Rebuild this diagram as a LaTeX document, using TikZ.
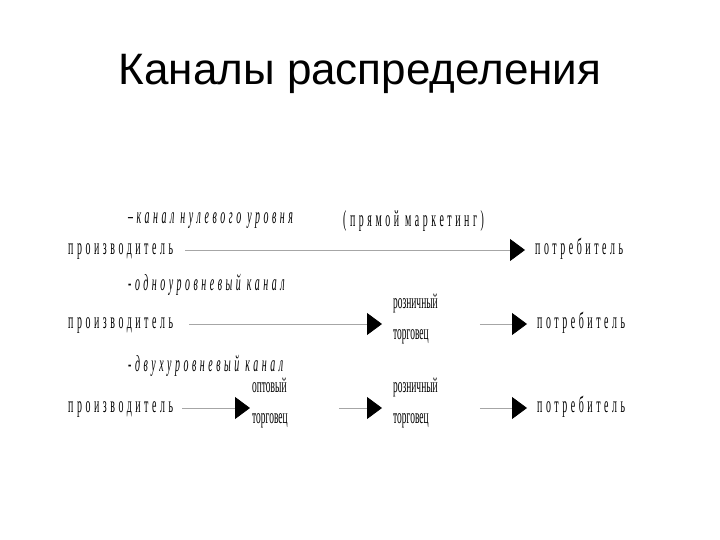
\documentclass[tikz,border=0pt]{standalone}
\usepackage{graphicx}
\usepackage{fontspec}
\setmainfont{Liberation Serif}
\newfontfamily\titlefont{Liberation Sans}
\newfontfamily\diagfont[LetterSpace=36]{Liberation Serif}
\newfontfamily\smallfont{Liberation Serif}
\usetikzlibrary{arrows.meta}
\newcommand{\sq}[1]{\scalebox{0.43}[1]{#1}}
\newcommand{\sn}[1]{\scalebox{0.45}[1]{#1}}
\tikzset{
  word/.style={inner sep=0pt, anchor=base west, font=\diagfont\fontsize{23}{25}\selectfont},
  lab/.style={inner sep=0pt, anchor=west, font=\diagfont\itshape\fontsize{23}{25}\selectfont},
  labup/.style={inner sep=0pt, anchor=west, font=\diagfont\fontsize{23}{25}\selectfont},
  trader/.style={inner sep=0pt, anchor=base west, font=\smallfont\fontsize{21}{24}\selectfont},
  conn/.style={draw=black!35, line width=0.8pt, -{Triangle[length=15pt,width=22pt,color=black]}},
  title/.style={font=\titlefont\fontsize{44}{50}\selectfont, anchor=base, inner sep=0pt}
}
\begin{document}
\begin{tikzpicture}[x=1pt,y=-1pt]
\useasboundingbox (0,0) rectangle (720,540);
\node[title] (t) at (360,85) {Каналы распределения};
\coordinate (row1) at (0,250);
\coordinate (row2) at (0,324);
\coordinate (row3) at (0,408);
% row 1
\node[lab] (l1) at (128,221) {\sq{–канал нулевого уровня}};
\node[labup] (m1) at (343,221) {\sq{(прямой маркетинг)}};
\node[word] (p1) at (68,254.5) {\sq{производитель}};
\node[word] (c1) at (535,254.5) {\sq{потребитель}};
\draw[conn] ([xshift=12pt]p1.east |- row1) -- ([xshift=-10pt]c1.west |- row1);
% row 2
\node[lab] (l2) at (128,285) {\sq{-одноуровневый канал}};
\node[word] (p2) at (68,328.5) {\sq{производитель}};
\node[trader] (r2a) at (393,308) {\sn{розничный}};
\node[trader] (r2b) at (393,339) {\sn{торговец}};
\node[word] (c2) at (537,328.5) {\sq{потребитель}};
\draw[conn] ([xshift=16pt]p2.east |- row2) -- ([xshift=-11pt]r2a.west |- row2);
\draw[conn] ([xshift=42pt]r2a.east |- row2) -- ([xshift=-10pt]c2.west |- row2);
% row 3
\node[lab] (l3) at (128,366) {\sq{-двухуровневый канал}};
\node[word] (p3) at (68,412.5) {\sq{производитель}};
\node[trader] (o3a) at (252,392) {\sn{оптовый}};
\node[trader] (o3b) at (252,423) {\sn{торговец}};
\node[trader] (r3a) at (393,392) {\sn{розничный}};
\node[trader] (r3b) at (393,423) {\sn{торговец}};
\node[word] (c3) at (537,412.5) {\sq{потребитель}};
\draw[conn] ([xshift=9pt]p3.east |- row3) -- ([xshift=-2pt]o3a.west |- row3);
\draw[conn] ([xshift=52pt]o3a.east |- row3) -- ([xshift=-11pt]r3a.west |- row3);
\draw[conn] ([xshift=42pt]r3a.east |- row3) -- ([xshift=-10pt]c3.west |- row3);
\end{tikzpicture}
\end{document}
